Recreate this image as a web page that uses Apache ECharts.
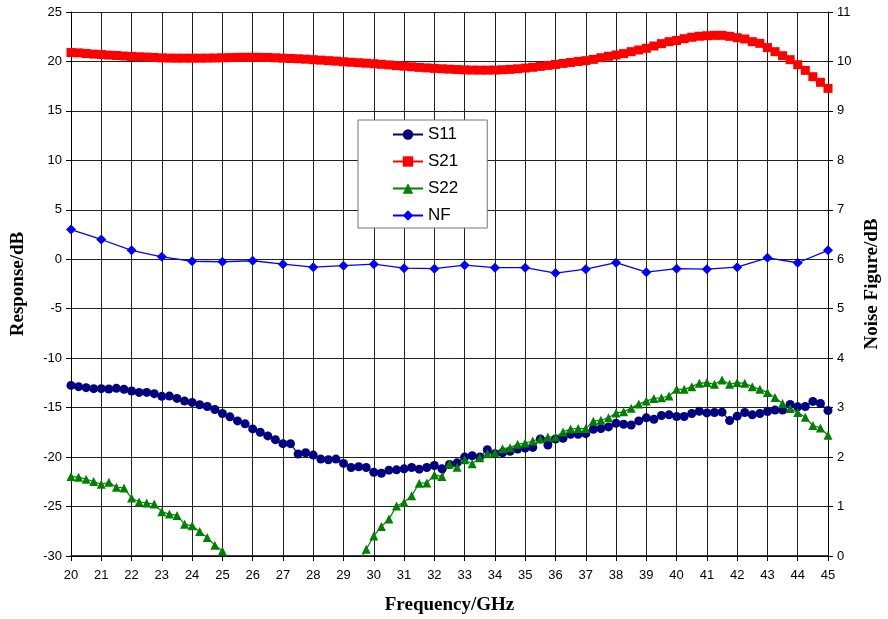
<!DOCTYPE html>
<html>
<head>
<meta charset="utf-8">
<script src="https://cdn.jsdelivr.net/npm/echarts@6/dist/echarts.min.js"></script>
<style>
  html, body { margin: 0; padding: 0; background: #fff; }
  #chart { width: 888px; height: 619px; }
</style>
</head>
<body>
<div id="chart"></div>
<script>
  // sweep frequencies (GHz) for S-parameters
  var freq = [20, 20.25, 20.5, 20.75, 21, 21.25, 21.5, 21.75, 22, 22.25, 22.5, 22.75,
    23, 23.25, 23.5, 23.75, 24, 24.25, 24.5, 24.75, 25, 25.25, 25.5, 25.75,
    26, 26.25, 26.5, 26.75, 27, 27.25, 27.5, 27.75, 28, 28.25, 28.5, 28.75,
    29, 29.25, 29.5, 29.75, 30, 30.25, 30.5, 30.75, 31, 31.25, 31.5, 31.75,
    32, 32.25, 32.5, 32.75, 33, 33.25, 33.5, 33.75, 34, 34.25, 34.5, 34.75,
    35, 35.25, 35.5, 35.75, 36, 36.25, 36.5, 36.75, 37, 37.25, 37.5, 37.75,
    38, 38.25, 38.5, 38.75, 39, 39.25, 39.5, 39.75, 40, 40.25, 40.5, 40.75,
    41, 41.25, 41.5, 41.75, 42, 42.25, 42.5, 42.75, 43, 43.25, 43.5, 43.75,
    44, 44.25, 44.5, 44.75, 45];

  var s11 = [-12.75, -12.88, -12.98, -13.08, -13.08, -13.12, -13.05, -13.15, -13.32, -13.46, -13.46, -13.59,
    -13.86, -13.83, -14.07, -14.34, -14.47, -14.71, -14.88, -15.19, -15.59, -15.93, -16.34, -16.64,
    -17.15, -17.49, -17.86, -18.24, -18.64, -18.64, -19.69, -19.56, -19.80, -20.20, -20.27, -20.20,
    -20.64, -21.05, -20.98, -21.05, -21.53, -21.63, -21.32, -21.29, -21.19, -21.05, -21.22, -21.05,
    -20.85, -21.19, -20.75, -20.58, -20.00, -19.86, -20.00, -19.25, -19.66, -19.56, -19.42, -19.19,
    -19.08, -19.02, -18.17, -18.78, -18.17, -18.10, -17.69, -17.69, -17.63, -17.19, -17.12, -16.95,
    -16.58, -16.68, -16.75, -16.34, -16.03, -16.17, -15.80, -15.73, -15.90, -15.90, -15.59, -15.36,
    -15.53, -15.49, -15.46, -16.31, -15.86, -15.49, -15.73, -15.59, -15.39, -15.25, -15.25, -14.68,
    -14.92, -14.88, -14.37, -14.58, -15.29];

  var s21 = [20.90, 20.87, 20.80, 20.74, 20.70, 20.64, 20.60, 20.55, 20.50, 20.47, 20.44, 20.40,
    20.36, 20.34, 20.33, 20.33, 20.33, 20.33, 20.34, 20.35, 20.37, 20.39, 20.41, 20.42,
    20.42, 20.41, 20.40, 20.37, 20.33, 20.30, 20.27, 20.23, 20.18, 20.13, 20.08, 20.03,
    19.97, 19.92, 19.87, 19.82, 19.77, 19.71, 19.65, 19.58, 19.52, 19.46, 19.40, 19.35,
    19.30, 19.26, 19.22, 19.18, 19.15, 19.13, 19.12, 19.12, 19.13, 19.16, 19.20, 19.26,
    19.33, 19.41, 19.50, 19.60, 19.70, 19.80, 19.90, 20.00, 20.08, 20.21, 20.38, 20.52,
    20.65, 20.79, 20.99, 21.16, 21.33, 21.56, 21.80, 22.00, 22.12, 22.30, 22.45, 22.55,
    22.60, 22.64, 22.64, 22.54, 22.40, 22.27, 22.00, 21.83, 21.40, 20.99, 20.58, 20.18,
    19.67, 19.10, 18.46, 17.89, 17.28];

  // values between 25.25 and 29.5 GHz fall below the -30 dB axis floor
  var s22 = [-21.97, -22.03, -22.24, -22.47, -22.75, -22.54, -23.05, -23.12, -24.14, -24.54, -24.64, -24.75,
    -25.53, -25.76, -25.90, -26.78, -26.95, -27.53, -28.14, -28.92, -29.49, -30.8, -32.2, -33.5,
    -34.6, -35.6, -36.4, -37.0, -37.4, -37.6, -37.6, -37.3, -36.8, -36.0, -35.0, -33.9,
    -32.7, -31.6, -30.6, -29.32, -27.97, -27.02, -26.27, -24.95, -24.58, -23.90, -22.64, -22.61,
    -21.80, -21.97, -20.71, -21.02, -20.27, -20.68, -20.07, -19.66, -19.56, -19.15, -19.05, -18.71,
    -18.58, -18.37, -18.14, -17.97, -17.97, -17.46, -17.15, -17.12, -17.12, -16.37, -16.27, -16.03,
    -15.53, -15.42, -15.05, -14.64, -14.34, -14.07, -14.00, -13.83, -13.15, -13.15, -12.88, -12.54,
    -12.47, -12.64, -12.20, -12.64, -12.47, -12.54, -12.88, -13.15, -13.46, -13.97, -14.58, -15.08,
    -15.49, -15.97, -16.81, -17.05, -17.80];

  // noise figure, measured every 1 GHz (right axis)
  var nfFreq = [20, 21, 22, 23, 24, 25, 26, 27, 28, 29, 30, 31, 32,
    33, 34, 35, 36, 37, 38, 39, 40, 41, 42, 43, 44, 45];
  var nf = [6.60, 6.40, 6.18, 6.05, 5.96, 5.95, 5.97, 5.90, 5.84, 5.87, 5.90, 5.82, 5.81,
    5.88, 5.83, 5.83, 5.72, 5.80, 5.93, 5.74, 5.81, 5.80, 5.84, 6.03, 5.93, 6.18];

  function pairs(xs, ys) {
    var out = [];
    for (var i = 0; i < xs.length; i++) out.push([xs[i], ys[i]]);
    return out;
  }

  var myChart = echarts.init(document.getElementById('chart'), null, { renderer: 'canvas' });
  var gridLine = { show: true, lineStyle: { color: '#222', width: 1 } };
  var tickFont = { color: '#000', fontFamily: 'Liberation Sans, Arial', fontSize: 13 };
  var nameFont = { color: '#000', fontFamily: 'Liberation Serif, Times New Roman', fontSize: 19, fontWeight: 'bold' };

  var option = {
    animation: false,
    backgroundColor: '#fff',
    grid: { left: 71, right: 60, top: 12, bottom: 63, outerBoundsMode: 'none' },
    legend: {
      orient: 'vertical',
      left: 358,
      top: 120,
      padding: [6, 29, 4, 34],
      itemWidth: 30,
      itemHeight: 13,
      itemGap: 10,
      backgroundColor: '#fff',
      borderColor: '#777',
      borderWidth: 1,
      textStyle: { color: '#000', fontFamily: 'Liberation Sans, Arial', fontSize: 17 },
      data: ['S11', 'S21', 'S22', 'NF']
    },
    xAxis: {
      type: 'value',
      min: 20,
      max: 45,
      interval: 1,
      name: 'Frequency/GHz',
      nameLocation: 'middle',
      nameGap: 40,
      nameTextStyle: nameFont,
      axisLine: { onZero: false, lineStyle: { color: '#000', width: 1.5 } },
      axisTick: { show: true, length: 5, lineStyle: { color: '#000' } },
      axisLabel: Object.assign({ margin: 13 }, tickFont),
      splitLine: gridLine
    },
    yAxis: [{
      type: 'value',
      min: -30,
      max: 25,
      interval: 5,
      name: 'Response/dB',
      nameLocation: 'middle',
      nameRotate: 90,
      nameGap: 43,
      nameTextStyle: nameFont,
      axisLine: { show: true, lineStyle: { color: '#000' } },
      axisTick: { show: true, length: 5, lineStyle: { color: '#000' } },
      axisLabel: Object.assign({ margin: 9 }, tickFont),
      splitLine: gridLine
    }, {
      type: 'value',
      min: 0,
      max: 11,
      interval: 1,
      position: 'right',
      name: 'Noise Figure/dB',
      nameLocation: 'middle',
      nameRotate: 90,
      nameGap: 34,
      nameTextStyle: nameFont,
      axisLine: { show: true, lineStyle: { color: '#000' } },
      axisTick: { show: true, length: 5, lineStyle: { color: '#000' } },
      axisLabel: Object.assign({ margin: 9 }, tickFont),
      splitLine: { show: false }
    }],
    series: [{
      name: 'S11',
      type: 'line',
      data: pairs(freq, s11),
      symbol: 'circle',
      symbolSize: 9,
      lineStyle: { color: '#000080', width: 1.2 },
      itemStyle: { color: '#000080' }
    }, {
      name: 'S21',
      type: 'line',
      data: pairs(freq, s21),
      symbol: 'rect',
      symbolSize: 9,
      lineStyle: { color: '#ff0000', width: 1.2 },
      itemStyle: { color: '#ff0000' }
    }, {
      name: 'S22',
      type: 'line',
      data: pairs(freq, s22),
      symbol: 'triangle',
      symbolSize: 9,
      lineStyle: { color: '#008000', width: 1.2 },
      itemStyle: { color: '#008000' }
    }, {
      name: 'NF',
      type: 'line',
      yAxisIndex: 1,
      data: pairs(nfFreq, nf),
      symbol: 'diamond',
      symbolSize: 10,
      lineStyle: { color: '#0000ff', width: 1.3 },
      itemStyle: { color: '#0000ff' }
    }]
  };
  myChart.setOption(option);
</script>
</body>
</html>
